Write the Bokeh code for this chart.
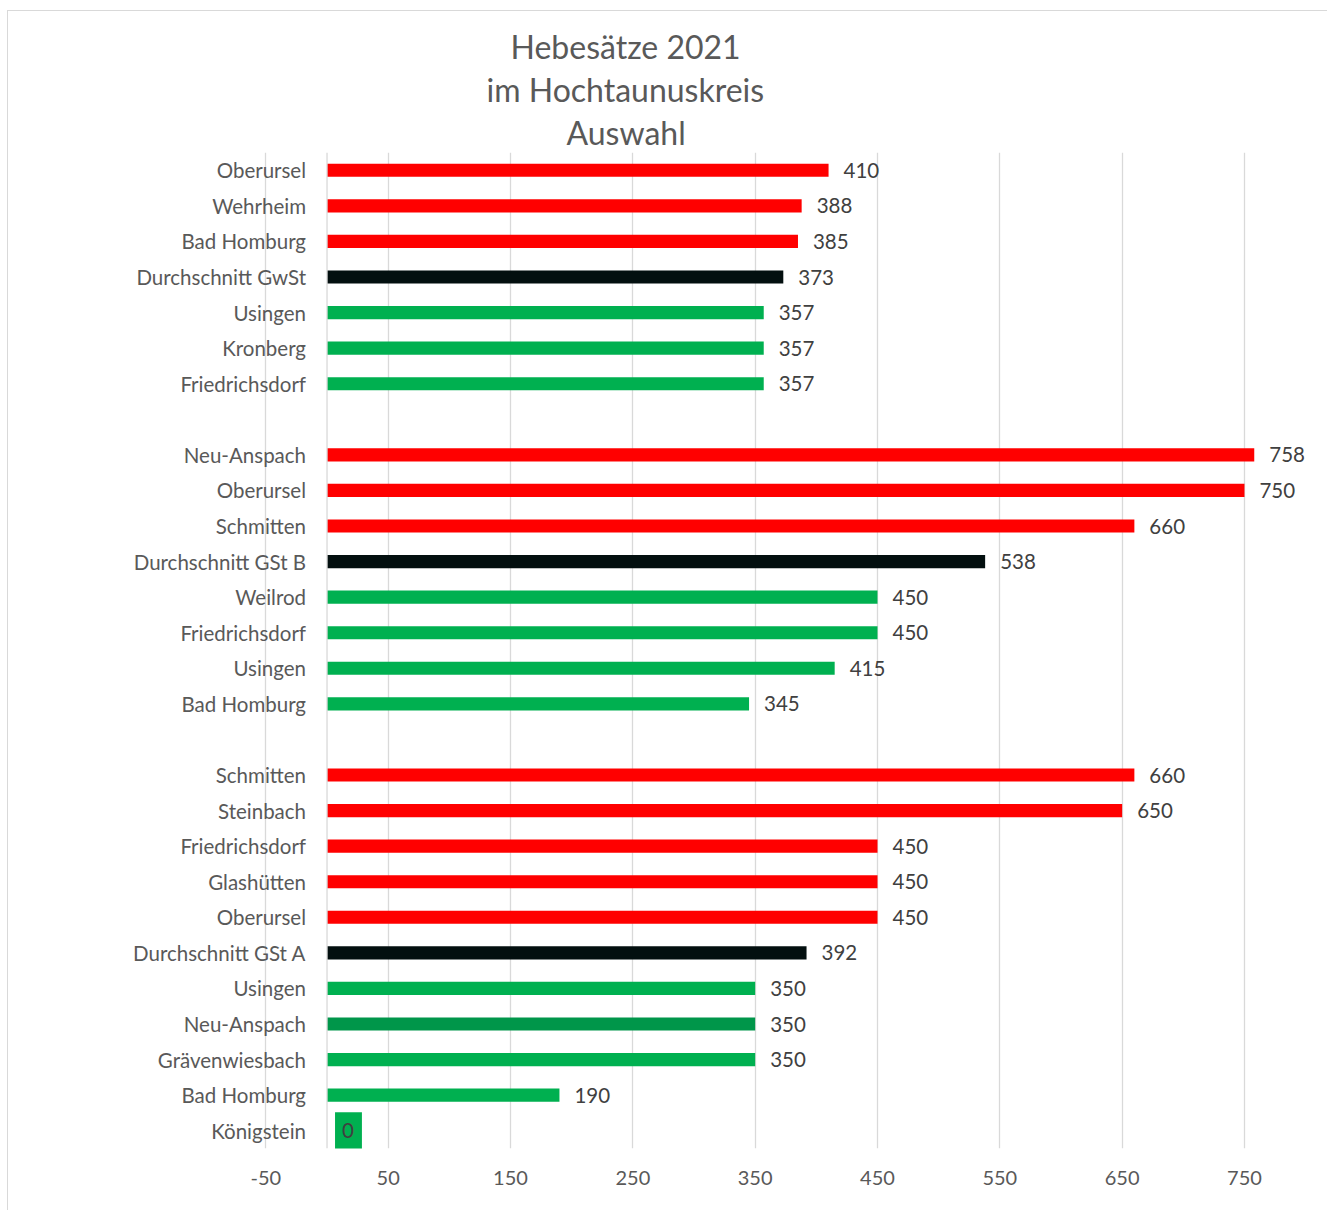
from bokeh.plotting import figure
from bokeh.models import Range1d, FixedTicker, Span, Title, ColumnDataSource
from bokeh.core.properties import value
from bokeh.embed import file_html
from bokeh.resources import INLINE

# ---- data ----
title_lines = ["Hebesätze 2021", "im Hochtaunuskreis", "Auswahl"]

grp1_names = ["Oberursel", "Wehrheim", "Bad Homburg", "Durchschnitt GwSt",
              "Usingen", "Kronberg", "Friedrichsdorf"]
grp1_values = [410, 388, 385, 373, 357, 357, 357]
grp1_kinds = ["hi", "hi", "hi", "avg", "lo", "lo", "lo"]

grp2_names = ["Neu-Anspach", "Oberursel", "Schmitten", "Durchschnitt GSt B",
              "Weilrod", "Friedrichsdorf", "Usingen", "Bad Homburg"]
grp2_values = [758, 750, 660, 538, 450, 450, 415, 345]
grp2_kinds = ["hi", "hi", "hi", "avg", "lo", "lo", "lo", "lo"]

grp3_names = ["Schmitten", "Steinbach", "Friedrichsdorf", "Glashütten", "Oberursel",
              "Durchschnitt GSt A", "Usingen", "Neu-Anspach", "Grävenwiesbach",
              "Bad Homburg", "Königstein"]
grp3_values = [660, 650, 450, 450, 450, 392, 350, 350, 350, 190, 0]
grp3_kinds = ["hi", "hi", "hi", "hi", "hi", "avg", "lo", "lo2", "lo", "lo", "lo"]

x_ticks = [-50, 50, 150, 250, 350, 450, 550, 650, 750]
x_tick_labels = ["-50", "50", "150", "250", "350", "450", "550", "650", "750"]

palette = {"hi": "#FF0000", "avg": "#030F0F", "lo": "#00B050", "lo2": "#00964A"}

# ---- build rows (one blank row between groups) ----
rows, names, vals, cols = [], [], [], []
r = 0
for gi, (n, v, k) in enumerate([(grp1_names, grp1_values, grp1_kinds),
                                (grp2_names, grp2_values, grp2_kinds),
                                (grp3_names, grp3_values, grp3_kinds)]):
    if gi > 0:
        r += 1
    for a, b, c in zip(n, v, k):
        rows.append(r)
        names.append(a)
        vals.append(b)
        cols.append(palette[c])
        r += 1
n_rows = r

src = ColumnDataSource(dict(y=rows, name=names, v=vals, c=cols))
nz = [i for i, x in enumerate(vals) if x != 0]
zz = [i for i, x in enumerate(vals) if x == 0]
src_nz = ColumnDataSource(dict(y=[rows[i] for i in nz], v=[vals[i] for i in nz],
                               lab=[str(vals[i]) for i in nz]))
src_z = ColumnDataSource(dict(y=[rows[i] for i in zz], v=[vals[i] for i in zz],
                              lab=[str(vals[i]) for i in zz], c=[cols[i] for i in zz]))

FONT = "Lato"
TXT = "#595959"

p = figure(width=1320, height=1200, output_backend="svg", toolbar_location=None,
           x_range=Range1d(-260.4, 804.8), y_range=Range1d(n_rows - 0.5, -0.5),
           y_axis_location=None, min_border_left=0, min_border_right=17,
           min_border_top=141, min_border_bottom=63)
p.outline_line_color = None
p.background_fill_color = "white"
p.border_fill_color = "white"
p.styles = {"margin-left": "7px", "margin-top": "10px",
            "border-top": "1px solid #d9d9d9", "border-left": "1px solid #d9d9d9"}

p.xaxis.ticker = FixedTicker(ticks=x_ticks)
p.xaxis.major_label_overrides = dict(zip(x_ticks, x_tick_labels))
p.xaxis.axis_line_color = None
p.xaxis.major_tick_line_color = None
p.xaxis.minor_tick_line_color = None
p.xaxis.major_tick_out = 0
p.xaxis.major_label_standoff = 22
p.xaxis.major_label_text_font = FONT
p.xaxis.major_label_text_font_size = "20px"
p.xaxis.major_label_text_color = TXT
p.xgrid.grid_line_color = "#d9d9d9"
p.xgrid.grid_line_width = 1.3
p.ygrid.grid_line_color = None

p.add_layout(Span(location=0, dimension="height", line_color="#d9d9d9", line_width=1.3))

p.hbar(y="y", left=0, right="v", height=0.37, fill_color="c", line_color=None, source=src)

p.text(x=0, y="y", text="name", source=src, x_offset=-21, text_align="right",
       text_baseline="middle", text_font=value(FONT), text_font_size="20.5px",
       text_color=TXT)
p.text(x="v", y="y", text="lab", source=src_nz, x_offset=15, text_align="left",
       text_baseline="middle", text_font=value(FONT), text_font_size="20.5px",
       text_color="#404040")
p.text(x="v", y="y", text="lab", source=src_z, x_offset=8, text_align="left",
       text_baseline="middle", text_font=value(FONT), text_font_size="20.5px",
       text_color="#404040", background_fill_color="c",
       padding=dict(left=7, right=8, top=11, bottom=11))

# left offsets so that each title line is centred at the chart's centre
title_offsets = [502, 478, 558]
for t, off in reversed(list(zip(title_lines, title_offsets))):
    p.add_layout(Title(text=t, align="left", offset=off, text_font=FONT,
                       text_font_size="32px", text_font_style="normal",
                       text_color=TXT, standoff=2), "above")

open("out.html", "w").write(file_html(p, INLINE))
